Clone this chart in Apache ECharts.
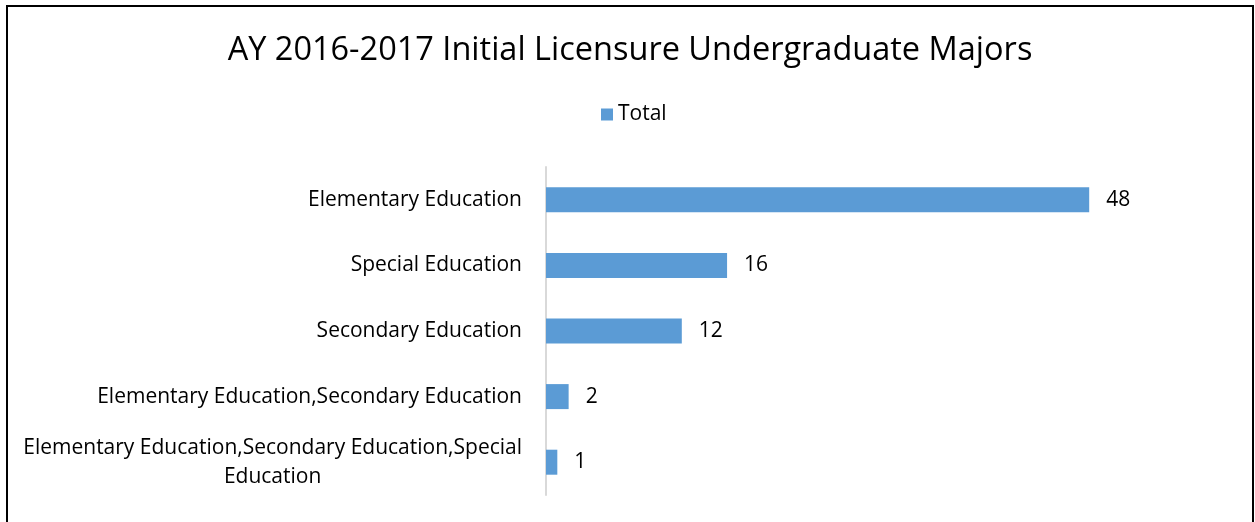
<!DOCTYPE html>
<html>
<head>
<meta charset="utf-8">
<script src="https://cdn.jsdelivr.net/npm/echarts@6/dist/echarts.min.js"></script>
<style>
  html, body { margin: 0; padding: 0; background: #fff; overflow: hidden; }
  #frame {
    position: absolute; left: 6px; top: 5px; width: 1244px; height: 530px;
    border: 2px solid #000; background: #fff;
  }
  #chart { width: 1244px; height: 530px; }
</style>
</head>
<body>
<div id="frame"><div id="chart"></div></div>
<script>
// 专业类别
const categories = [
  "Elementary Education",
  "Special Education",
  "Secondary Education",
  "Elementary Education,Secondary Education",
  "Elementary Education,Secondary Education,Special Education"
];
// 人数
const totals = [48, 16, 12, 2, 1];

const fontFamily = "'Open Sans', 'Noto Sans', sans-serif";

let myChart = echarts.init(document.getElementById("chart"));
let option = {
  textStyle: { fontFamily: fontFamily },
  title: {
    text: "AY 2016-2017 Initial Licensure Undergraduate Majors",
    left: "center",
    top: 22,
    textStyle: { fontSize: 32.5, fontWeight: "normal", color: "#000", fontFamily: fontFamily }
  },
  legend: {
    data: ["Total"],
    left: 588,
    top: 92,
    itemWidth: 12,
    itemHeight: 12,
    itemGap: 4,
    icon: "rect",
    textStyle: { fontSize: 21, color: "#000", fontFamily: fontFamily }
  },
  grid: {
    left: 538,
    top: 160,
    width: 679,
    height: 328,
    containLabel: false
  },
  xAxis: {
    type: "value",
    min: 0,
    max: 60,
    show: false
  },
  yAxis: {
    type: "category",
    inverse: true,
    data: categories,
    axisTick: { show: false },
    axisLine: { show: true, lineStyle: { color: "#d9d9d9", width: 2 } },
    axisLabel: {
      margin: 24,
      color: "#000",
      fontSize: 21,
      fontFamily: fontFamily,
      // 过长的标签换行，第二行居中
      formatter: function (val) {
        let text = val;
        if (val.length > 45) {
          let i = val.lastIndexOf(" ");
          text = val.slice(0, i) + "\n" + val.slice(i + 1);
        }
        return text.split("\n").map(s => "{a|" + s + "}").join("\n");
      },
      rich: {
        a: { align: "center", fontSize: 21, color: "#000", fontFamily: fontFamily, lineHeight: 29 }
      }
    }
  },
  series: [
    {
      name: "Total",
      type: "bar",
      data: totals,
      barWidth: 25,
      itemStyle: { color: "#5b9bd5" },
      label: {
        show: true,
        position: "right",
        distance: 17,
        color: "#000",
        fontSize: 21,
        fontFamily: fontFamily
      }
    }
  ]
};
myChart.setOption(option);
</script>
</body>
</html>
